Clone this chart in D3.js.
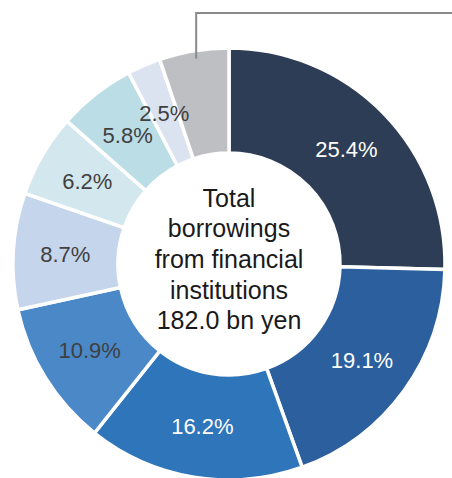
<!DOCTYPE html>
<html>
<head>
<meta charset="utf-8">
<script src="https://cdn.jsdelivr.net/npm/d3@7/dist/d3.min.js"></script>
<style>
  html, body { margin: 0; padding: 0; background: #ffffff; }
  svg { display: block; font-family: "Liberation Sans", Arial, sans-serif; }
</style>
</head>
<body>
<svg id="chart" width="452" height="478"></svg>
<script>
// Share of total borrowings by lender (%), clockwise from 12 o'clock
const shares = [25.4, 19.1, 16.2, 10.9, 8.7, 6.2, 5.8, 2.5, 5.2];
const shareLabels = ["25.4%", "19.1%", "16.2%", "10.9%", "8.7%", "6.2%", "5.8%", "2.5%", ""];
const sliceColors = ["#2e3d56", "#2b5f9e", "#2e75ba", "#4a88c7", "#c5d5ec",
                     "#d3e8ee", "#bbdde5", "#dae3ef", "#bebfc3"];
const labelColors = ["#ffffff", "#ffffff", "#ffffff", "#404040", "#404040",
                     "#404040", "#404040", "#404040", "#404040"];
const centerLines = ["Total", "borrowings", "from financial", "institutions", "182.0 bn yen"];

const svg = d3.select("#chart");
const cx = 229, cy = 264;
const rOuter = 216, rInner = 111, rLabel = 164;

const g = svg.append("g").attr("transform", `translate(${cx},${cy})`);

const pie = d3.pie().value(d => d).sort(null);
const arcs = pie(shares);

const arc = d3.arc().innerRadius(rInner).outerRadius(rOuter);
const labelArc = d3.arc().innerRadius(rLabel).outerRadius(rLabel);

g.selectAll("path.slice")
  .data(arcs)
  .join("path")
  .attr("class", "slice")
  .attr("d", arc)
  .attr("fill", (d, i) => sliceColors[i])
  .attr("stroke", "#ffffff")
  .attr("stroke-width", 3.5)
  .attr("stroke-linejoin", "miter");

g.selectAll("text.pct")
  .data(arcs)
  .join("text")
  .attr("class", "pct")
  .attr("transform", d => `translate(${labelArc.centroid(d)})`)
  .attr("text-anchor", "middle")
  .attr("dy", "0.36em")
  .attr("font-size", 22)
  .attr("fill", (d, i) => labelColors[i])
  .text((d, i) => shareLabels[i]);

// Leader line for the last (grey) slice, running off to the right
const last = arcs[arcs.length - 1];
const mid = (last.startAngle + last.endAngle) / 2;
const lx = cx + (rOuter - 8) * Math.sin(mid) + 1;
const ly = cy - (rOuter - 8) * Math.cos(mid);
svg.append("path")
  .attr("d", `M${lx},${ly} V13 H452`)
  .attr("fill", "none")
  .attr("stroke", "#8a8a8a")
  .attr("stroke-width", 2);

// Centre caption
const lineStep = 30.6;
g.selectAll("text.center")
  .data(centerLines)
  .join("text")
  .attr("class", "center")
  .attr("text-anchor", "middle")
  .attr("x", 0)
  .attr("y", (d, i) => (i - 2) * lineStep + 4)
  .attr("font-size", 25)
  .attr("fill", "#1a1a1a")
  .text(d => d);
</script>
</body>
</html>
